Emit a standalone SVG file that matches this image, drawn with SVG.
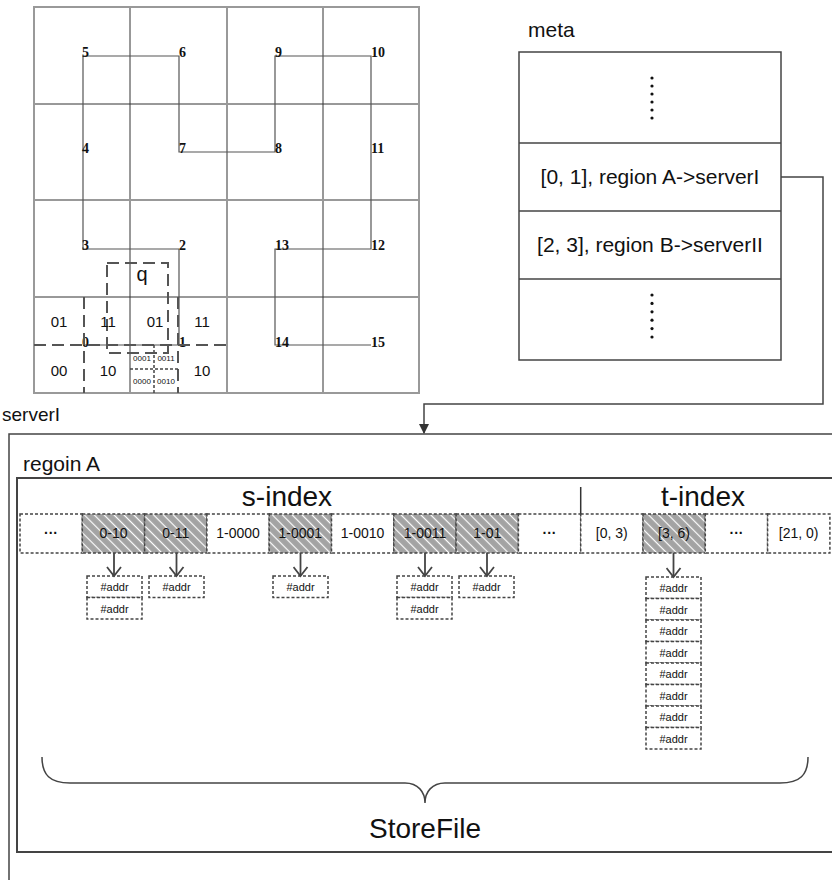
<svg xmlns="http://www.w3.org/2000/svg" width="832" height="880" viewBox="0 0 832 880">
<style>
text{font-family:"Liberation Sans",Arial,sans-serif;fill:#111}
.num{font-family:"Liberation Serif","Times New Roman",serif;font-weight:bold;font-size:14px}
.gl{font-size:15px;text-anchor:middle}
.sm{font-size:8px;text-anchor:middle}
.mid{font-size:21px;text-anchor:middle}
.big{font-size:28px;text-anchor:middle}
.cell{font-size:14px;text-anchor:middle}
.addr{font-size:11px;text-anchor:middle}
.dash{fill:none;stroke:#555;stroke-width:2;stroke-dasharray:12 6}
.dot{fill:none;stroke:#444;stroke-width:1.5;stroke-dasharray:3 2}
.box{fill:#fff;stroke:#444;stroke-width:1.5;stroke-dasharray:3 2}
.hbox{fill:url(#hatch);stroke:#444;stroke-width:1.5;stroke-dasharray:3 2}
.solid{fill:none;stroke:#444;stroke-width:1.5}
.arr{fill:none;stroke:#444;stroke-width:1.8}
</style>
<defs>
<pattern id="hatch" patternUnits="userSpaceOnUse" width="7" height="7" patternTransform="rotate(45)">
<rect width="7" height="7" fill="#a3a3a3"/>
<line x1="0" y1="3.5" x2="7" y2="3.5" stroke="#fff" stroke-width="1.2"/>
</pattern>
<marker id="tri" markerWidth="10" markerHeight="10" refX="9" refY="5" orient="auto" markerUnits="userSpaceOnUse">
<path d="M0,0 L10,5 L0,10 z" fill="#333"/>
</marker>
<marker id="vee" markerWidth="12" markerHeight="16" refX="10" refY="8" orient="auto" markerUnits="userSpaceOnUse">
<path d="M1,1 L10,8 L1,15" fill="none" stroke="#444" stroke-width="1.8"/>
</marker>
</defs>

<g id="grid">
<line x1="130" y1="7" x2="130" y2="393" stroke="#333" stroke-width="1"/>
<line x1="323" y1="7" x2="323" y2="393" stroke="#333" stroke-width="1"/>
<line x1="34" y1="104" x2="419" y2="104" stroke="#333" stroke-width="1"/>
<line x1="34" y1="297" x2="419" y2="297" stroke="#333" stroke-width="1"/>
<line x1="227" y1="7" x2="227" y2="393" stroke="#999" stroke-width="2"/>
<line x1="34" y1="200" x2="419" y2="200" stroke="#999" stroke-width="2"/>
<rect x="34" y="7" width="385" height="386" fill="none" stroke="#999" stroke-width="2"/>
<path d="M83,345 H179 V249 H83 V56 H179 V152 H275 V56 H371 V249 H275 V345 H371" fill="none" stroke="#555" stroke-width="1.2"/>
<text class="num" x="82" y="347">0</text>
<text class="num" x="179" y="347">1</text>
<text class="num" x="179" y="250">2</text>
<text class="num" x="82" y="250">3</text>
<text class="num" x="82" y="153">4</text>
<text class="num" x="82" y="57">5</text>
<text class="num" x="179" y="57">6</text>
<text class="num" x="179" y="153" font-weight="normal">7</text>
<text class="num" x="275" y="153">8</text>
<text class="num" x="275" y="57">9</text>
<text class="num" x="371" y="57">10</text>
<text class="num" x="371" y="153">11</text>
<text class="num" x="371" y="250">12</text>
<text class="num" x="275" y="250">13</text>
<text class="num" x="275" y="347">14</text>
<text class="num" x="371" y="347">15</text>
<line class="dash" x1="34" y1="345" x2="227" y2="345"/>
<line class="dash" x1="84" y1="297" x2="84" y2="393"/>
<line class="dash" x1="178" y1="297" x2="178" y2="393"/>
<line class="dot" x1="130" y1="369" x2="178" y2="369"/>
<line class="dot" x1="154" y1="345" x2="154" y2="393"/>
<rect class="dash" x="107" y="263" width="61" height="90"/>
<text x="142" y="281" font-size="20px" text-anchor="middle">q</text>
<text class="gl" x="59" y="327">01</text>
<text class="gl" x="108" y="327">11</text>
<text class="gl" x="155" y="327">01</text>
<text class="gl" x="202" y="327">11</text>
<text class="gl" x="59" y="376">00</text>
<text class="gl" x="108" y="376">10</text>
<text class="gl" x="202" y="376">10</text>
<text class="sm" x="142" y="361">0001</text>
<text class="sm" x="166" y="361">0011</text>
<text class="sm" x="142" y="384">0000</text>
<text class="sm" x="166" y="384">0010</text>
</g>

<g id="meta">
<text x="528" y="37" font-size="21px">meta</text>
<rect x="519" y="52" width="262" height="308" fill="none" stroke="#444" stroke-width="1.5"/>
<line x1="519" y1="143" x2="781" y2="143" stroke="#444" stroke-width="1.5"/>
<line x1="519" y1="211" x2="781" y2="211" stroke="#444" stroke-width="1.5"/>
<line x1="519" y1="279" x2="781" y2="279" stroke="#444" stroke-width="1.5"/>
<g fill="#111">
<circle cx="652" cy="78" r="1.6"/><circle cx="652" cy="86" r="1.6"/><circle cx="652" cy="94" r="1.6"/><circle cx="652" cy="102" r="1.6"/><circle cx="652" cy="110" r="1.6"/><circle cx="652" cy="118" r="1.6"/>
<circle cx="652" cy="295" r="1.6"/><circle cx="652" cy="303.4" r="1.6"/><circle cx="652" cy="311.8" r="1.6"/><circle cx="652" cy="320.2" r="1.6"/><circle cx="652" cy="328.6" r="1.6"/><circle cx="652" cy="337" r="1.6"/>
</g>
<text class="mid" x="650" y="184">[0, 1], region A-&gt;serverI</text>
<text class="mid" x="650" y="252">[2, 3], region B-&gt;serverII</text>
</g>

<g id="serverI">
<text x="2" y="421" font-size="19px">serverI</text>
<rect x="9" y="434" width="850" height="460" fill="none" stroke="#444" stroke-width="1.5"/>
</g>

<g id="regionA">
<text x="23" y="471" font-size="21px">regoin A</text>
<rect x="17" y="478" width="840" height="374" fill="none" stroke="#444" stroke-width="2"/>
<text class="big" x="287" y="506">s-index</text>
<text class="big" x="703" y="506">t-index</text>
<line x1="580.7" y1="487" x2="580.7" y2="553" stroke="#333" stroke-width="1.5"/>
</g>

<g id="index">
<rect class="box" x="20" y="514" width="62.3" height="39"/>
<rect class="hbox" x="82.3" y="514" width="62.3" height="39"/>
<rect class="hbox" x="144.6" y="514" width="62.3" height="39"/>
<rect class="box" x="206.9" y="514" width="62.3" height="39"/>
<rect class="hbox" x="269.2" y="514" width="62.3" height="39"/>
<rect class="box" x="331.5" y="514" width="62.3" height="39"/>
<rect class="hbox" x="393.8" y="514" width="62.3" height="39"/>
<rect class="hbox" x="456.1" y="514" width="62.3" height="39"/>
<rect class="box" x="518.4" y="514" width="62.3" height="39"/>
<rect class="box" x="580.7" y="514" width="62.3" height="39"/>
<rect class="hbox" x="643" y="514" width="62.3" height="39"/>
<rect class="box" x="705.3" y="514" width="62.3" height="39"/>
<rect class="box" x="767.6" y="514" width="62.3" height="39"/>
<text class="cell" x="51" y="538" font-weight="bold">···</text>
<text class="cell" x="113.5" y="538">0-10</text>
<text class="cell" x="175.8" y="538">0-11</text>
<text class="cell" x="238" y="538">1-0000</text>
<text class="cell" x="300.3" y="538">1-0001</text>
<text class="cell" x="362.6" y="538">1-0010</text>
<text class="cell" x="425" y="538">1-0011</text>
<text class="cell" x="487.3" y="538">1-01</text>
<text class="cell" x="549.5" y="538" font-weight="bold">···</text>
<text class="cell" x="611.8" y="538">[0, 3)</text>
<text class="cell" x="674" y="538">[3, 6)</text>
<text class="cell" x="736.5" y="538" font-weight="bold">···</text>
<text class="cell" x="798.7" y="538">[21, 0)</text>
</g>

<g id="addrs">
<rect class="box" x="87" y="576" width="55" height="21.5"/>
<rect class="box" x="87" y="597.5" width="55" height="21.5"/>
<rect class="box" x="149" y="576" width="55" height="21.5"/>
<rect class="box" x="273" y="576" width="55" height="21.5"/>
<rect class="box" x="397" y="576" width="55" height="21.5"/>
<rect class="box" x="397" y="597.5" width="55" height="21.5"/>
<rect class="box" x="459" y="576" width="55" height="21.5"/>
<text class="addr" x="114.5" y="591">#addr</text>
<text class="addr" x="114.5" y="612.5">#addr</text>
<text class="addr" x="176.5" y="591">#addr</text>
<text class="addr" x="300.5" y="591">#addr</text>
<text class="addr" x="424.5" y="591">#addr</text>
<text class="addr" x="424.5" y="612.5">#addr</text>
<text class="addr" x="486.5" y="591">#addr</text>
<rect class="box" x="646" y="577" width="55" height="21.5"/>
<rect class="box" x="646" y="598.5" width="55" height="21.5"/>
<rect class="box" x="646" y="620" width="55" height="21.5"/>
<rect class="box" x="646" y="641.5" width="55" height="21.5"/>
<rect class="box" x="646" y="663" width="55" height="21.5"/>
<rect class="box" x="646" y="684.5" width="55" height="21.5"/>
<rect class="box" x="646" y="706" width="55" height="21.5"/>
<rect class="box" x="646" y="727.5" width="55" height="21.5"/>
<text class="addr" x="673.5" y="592">#addr</text>
<text class="addr" x="673.5" y="613.5">#addr</text>
<text class="addr" x="673.5" y="635">#addr</text>
<text class="addr" x="673.5" y="656.5">#addr</text>
<text class="addr" x="673.5" y="678">#addr</text>
<text class="addr" x="673.5" y="699.5">#addr</text>
<text class="addr" x="673.5" y="721">#addr</text>
<text class="addr" x="673.5" y="742.5">#addr</text>
</g>

<g id="storefile">
<path class="solid" d="M42,757 C42,775 50,783 70,783 H405 C418,783 425,792 425,803 C425,792 432,783 445,783 H780 C800,783 808,775 808,757"/>
<text class="big" x="425" y="838">StoreFile</text>
</g>

<g id="connectors">
<path d="M781,177 H823 V404 H424 V433" fill="none" stroke="#444" stroke-width="1.5" marker-end="url(#tri)"/>
<line class="arr" x1="114" y1="553" x2="114" y2="576" marker-end="url(#vee)"/>
<line class="arr" x1="176.5" y1="553" x2="176.5" y2="576" marker-end="url(#vee)"/>
<line class="arr" x1="300.5" y1="553" x2="300.5" y2="576" marker-end="url(#vee)"/>
<line class="arr" x1="425" y1="553" x2="425" y2="576" marker-end="url(#vee)"/>
<line class="arr" x1="487" y1="553" x2="487" y2="576" marker-end="url(#vee)"/>
<line class="arr" x1="673.5" y1="553" x2="673.5" y2="577" marker-end="url(#vee)"/>
</g>
</svg>
